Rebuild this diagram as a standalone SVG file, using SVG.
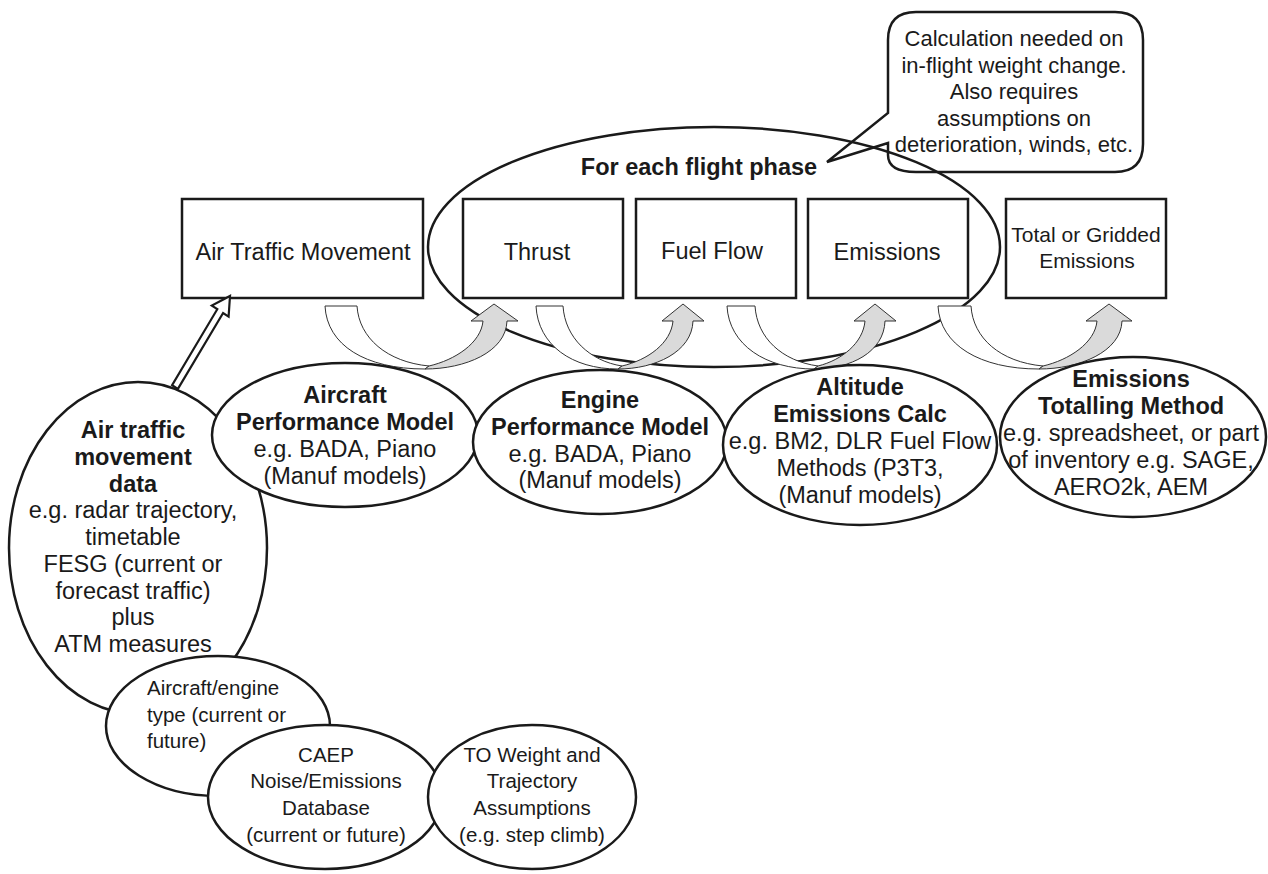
<svg xmlns="http://www.w3.org/2000/svg" width="1268" height="874" viewBox="0 0 1268 874">
  <style>
    .t { font-family: "Liberation Sans", Arial, sans-serif; font-size: 23.5px; fill: #1a1a1a; }
    .s { font-size: 20.5px; }
    .b { font-weight: bold; }
    .m { text-anchor: middle; }
    .box { fill: #ffffff; stroke: #1a1a1a; stroke-width: 2.5; }
    .ell { fill: #ffffff; stroke: #1a1a1a; stroke-width: 2.5; }
    .back { fill: #ffffff; stroke: #333333; stroke-width: 1; }
    .front { fill: #dadada; stroke: #333333; stroke-width: 1; }
  </style>

  <!-- callout about weight change -->
  <g id="callout">
    <path d="M916,12 L1115,12 Q1143,12 1143,40 L1143,144 Q1143,172 1115,172 L916,172 Q888,172 888,155 L888,143 L827,162 L888,113 L888,40 Q888,12 916,12 Z" fill="#ffffff" stroke="#1a1a1a" stroke-width="2.5"/>
    <text class="t m" style="font-size:22px" x="1014" y="46">Calculation needed on</text>
    <text class="t m" style="font-size:22px" x="1014" y="72.5">in-flight weight change.</text>
    <text class="t m" style="font-size:22px" x="1014" y="99">Also requires</text>
    <text class="t m" style="font-size:22px" x="1014" y="125.5">assumptions on</text>
    <text class="t m" style="font-size:22px" x="1014" y="152">deterioration, winds, etc.</text>
  </g>

  <!-- loop enclosing the per-phase steps -->
  <g id="flight-phase-loop">
    <ellipse cx="714" cy="247" rx="286" ry="120" fill="none" stroke="#1a1a1a" stroke-width="2.5"/>
    <text class="t b m" x="699" y="175">For each flight phase</text>
  </g>

  <!-- process boxes -->
  <g id="box-atm">
    <rect class="box" x="182" y="199" width="241" height="99"/>
    <text class="t m" x="303" y="260">Air Traffic Movement</text>
  </g>
  <g id="box-thrust">
    <rect class="box" x="463" y="199" width="160" height="99"/>
    <text class="t m" x="537" y="260">Thrust</text>
  </g>
  <g id="box-fuel">
    <rect class="box" x="636" y="199" width="160" height="99"/>
    <text class="t m" x="712" y="259">Fuel Flow</text>
  </g>
  <g id="box-emissions">
    <rect class="box" x="808" y="199" width="160" height="99"/>
    <text class="t m" x="887" y="260">Emissions</text>
  </g>
  <g id="box-total">
    <rect class="box" x="1006" y="199" width="160" height="99"/>
    <text class="t m" style="font-size:21px" x="1086" y="242">Total or Gridded</text>
    <text class="t m" style="font-size:21px" x="1087" y="268">Emissions</text>
  </g>

  <!-- connectors -->
  <g id="connectors">
    <!-- curved block arrows between boxes -->
    <path class="back" d="M325,306 L357,306 C359,338 387,362 429,366 L425,369 C365,369 327,345 325,306 Z"/>
    <path class="front" d="M425,369 C465,369 506,352 507,321 L518,321 L494,304 L471,321 L483,321 C481,343 455,360 429,366 Z"/>

    <path class="back" d="M536,306 L563,306 C565,338 590,361 622,366 L618,369 C572,369 538,345 536,306 Z"/>
    <path class="front" d="M618,369 C655,369 692,352 693,321 L704,321 L683,304 L662,321 L673,321 C671,343 648,360 622,366 Z"/>

    <path class="back" d="M727,306 L755,306 C757,338 782,361 818,366 L814,369 C766,369 729,345 727,306 Z"/>
    <path class="front" d="M814,369 C851,369 884,352 885,321 L896,321 L875,304 L854,321 L865,321 C863,343 842,360 818,366 Z"/>

    <path class="back" d="M938,306 L971,306 C973,338 1000,362 1043,366 L1039,369 C980,369 940,345 938,306 Z"/>
    <path class="front" d="M1039,369 C1079,369 1121,352 1122,321 L1132,321 L1109,304 L1086,321 L1097,321 C1095,343 1069,360 1043,366 Z"/>

    <!-- hollow arrow from movement data up to the movement box -->
    <polygon points="230,296 228.6,316.6 223.1,313 177.9,388.9 172.1,385.1 217.3,309.2 211.8,305.6" fill="#ffffff" stroke="#1a1a1a" stroke-width="2.2" stroke-linejoin="miter"/>
  </g>

  <!-- data / model ellipses -->
  <g id="atm-data">
    <ellipse class="ell" cx="138" cy="548" rx="129" ry="166"/>
    <text class="t b m" x="133" y="438">Air traffic</text>
    <text class="t b m" x="133" y="464.7">movement</text>
    <text class="t b m" x="133" y="491.5">data</text>
    <text class="t m" x="133" y="518.2">e.g. radar trajectory,</text>
    <text class="t m" x="133" y="545">timetable</text>
    <text class="t m" x="133" y="571.7">FESG (current or</text>
    <text class="t m" x="133" y="598.5">forecast traffic)</text>
    <text class="t m" x="133" y="625.2">plus</text>
    <text class="t m" x="133" y="652">ATM measures</text>
  </g>

  <g id="aircraft-model">
    <ellipse class="ell" cx="345" cy="435" rx="133" ry="72"/>
    <text class="t b m" x="345" y="403">Aircraft</text>
    <text class="t b m" x="345" y="430">Performance Model</text>
    <text class="t m" x="345" y="457">e.g. BADA, Piano</text>
    <text class="t m" x="345" y="484">(Manuf models)</text>
  </g>

  <g id="engine-model">
    <ellipse class="ell" cx="600" cy="442" rx="127" ry="72"/>
    <text class="t b m" x="600" y="408">Engine</text>
    <text class="t b m" x="600" y="435">Performance Model</text>
    <text class="t m" x="600" y="462">e.g. BADA, Piano</text>
    <text class="t m" x="600" y="488">(Manuf models)</text>
  </g>

  <g id="altitude-calc">
    <ellipse class="ell" cx="860" cy="445" rx="137" ry="80"/>
    <text class="t b m" x="860" y="395">Altitude</text>
    <text class="t b m" x="860" y="422">Emissions Calc</text>
    <text class="t m" x="860" y="449">e.g. BM2, DLR Fuel Flow</text>
    <text class="t m" x="860" y="476">Methods (P3T3,</text>
    <text class="t m" x="860" y="503">(Manuf models)</text>
  </g>

  <g id="totalling-method">
    <ellipse class="ell" cx="1133" cy="437" rx="133" ry="80"/>
    <text class="t b m" x="1131" y="387">Emissions</text>
    <text class="t b m" x="1131" y="414">Totalling Method</text>
    <text class="t m" x="1131" y="441">e.g. spreadsheet, or part</text>
    <text class="t m" x="1131" y="468">of inventory e.g. SAGE,</text>
    <text class="t m" x="1131" y="495">AERO2k, AEM</text>
  </g>

  <g id="aircraft-engine-type">
    <ellipse class="ell" cx="218" cy="726" rx="112" ry="70"/>
    <text class="t s" x="147" y="695">Aircraft/engine</text>
    <text class="t s" x="147" y="722">type (current or</text>
    <text class="t s" x="147" y="748">future)</text>
  </g>

  <g id="caep-database">
    <ellipse class="ell" cx="325" cy="797" rx="117" ry="72"/>
    <text class="t s m" x="326" y="762">CAEP</text>
    <text class="t s m" x="326" y="788">Noise/Emissions</text>
    <text class="t s m" x="326" y="815">Database</text>
    <text class="t s m" x="326" y="842">(current or future)</text>
  </g>

  <g id="to-weight">
    <ellipse class="ell" cx="532" cy="797" rx="104" ry="72"/>
    <text class="t s m" x="532" y="762">TO Weight and</text>
    <text class="t s m" x="532" y="788">Trajectory</text>
    <text class="t s m" x="532" y="815">Assumptions</text>
    <text class="t s m" x="532" y="842">(e.g. step climb)</text>
  </g>
</svg>
